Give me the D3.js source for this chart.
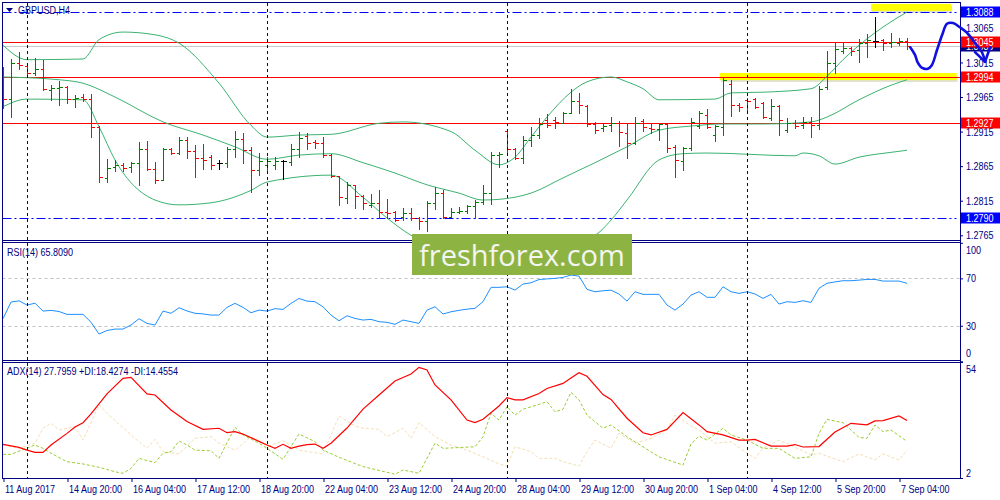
<!DOCTYPE html>
<html><head><meta charset="utf-8">
<script src="https://cdn.jsdelivr.net/npm/d3@7"></script>
<style>
body{margin:0;background:#fff;}
svg{display:block;font-family:"Liberation Sans",Arial,sans-serif;}
</style>
</head><body>
<svg id="c" width="1000" height="500"></svg>
<script>
// ---------- DATA ----------
const symbolTitle = "GBPUSD,H4";
const opens = [1.2994,1.2962,1.3014,1.3010,1.3000,1.3006,1.2975,1.2978,1.2980,1.2962,1.2965,1.2962,1.2922,1.2848,1.2864,1.2866,1.2864,1.2870,1.2890,1.2861,1.2845,1.2890,1.2884,1.2903,1.2887,1.2877,1.2878,1.2870,1.2870,1.2890,1.2904,1.2888,1.2860,1.2867,1.2866,1.2872,1.2871,1.2890,1.2909,1.2900,1.2898,1.2881,1.2851,1.2819,1.2838,1.2822,1.2809,1.2812,1.2799,1.2799,1.2791,1.2797,1.2790,1.2786,1.2812,1.2826,1.2791,1.2799,1.2800,1.2807,1.2813,1.2826,1.2881,1.2916,1.2890,1.2877,1.2903,1.2910,1.2932,1.2932,1.2927,1.2942,1.2959,1.2952,1.2926,1.2920,1.2924,1.2927,1.2913,1.2898,1.2930,1.2920,1.2919,1.2926,1.2893,1.2872,1.2891,1.2923,1.2939,1.2910,1.2922,1.2984,1.2953,1.2961,1.2962,1.2956,1.2935,1.2952,1.2917,1.2927,1.2925,1.2929,1.2924,1.2980,1.3014,1.3032,1.3036,1.3033,1.3043,1.3046,1.3048,1.3043,1.3043,1.3046];
const highs = [1.3008,1.3020,1.3030,1.3014,1.3021,1.3019,1.2982,1.2988,1.2981,1.2968,1.2969,1.2969,1.2923,1.2875,1.2874,1.2870,1.2871,1.2900,1.2901,1.2871,1.2891,1.2891,1.2907,1.2907,1.2895,1.2897,1.2881,1.2874,1.2893,1.2916,1.2913,1.2893,1.2884,1.2878,1.2878,1.2874,1.2897,1.2915,1.2913,1.2903,1.2907,1.2883,1.2851,1.2842,1.2838,1.2823,1.2825,1.2830,1.2817,1.2800,1.2804,1.2804,1.2791,1.2815,1.2835,1.2830,1.2804,1.2806,1.2809,1.2816,1.2838,1.2885,1.2885,1.2917,1.2891,1.2909,1.2922,1.2935,1.2940,1.2936,1.2943,1.2977,1.2971,1.2953,1.2929,1.2927,1.2936,1.2930,1.2927,1.2936,1.2933,1.2927,1.2927,1.2927,1.2895,1.2893,1.2935,1.2945,1.2948,1.2924,1.2994,1.2990,1.2956,1.2964,1.2964,1.2958,1.2962,1.2953,1.2935,1.2932,1.2936,1.2936,1.2981,1.3032,1.3043,1.3043,1.3037,1.3049,1.3056,1.3081,1.3049,1.3058,1.3050,1.3050];
const lows = [1.2949,1.2936,1.3006,1.2995,1.2997,1.2975,1.2961,1.2953,1.2956,1.2951,1.2959,1.2907,1.2842,1.2842,1.2858,1.2858,1.2857,1.2838,1.2860,1.2841,1.2845,1.2883,1.2883,1.2877,1.2849,1.2861,1.2861,1.2861,1.2864,1.2878,1.2870,1.2827,1.2852,1.2857,1.2861,1.2846,1.2866,1.2878,1.2890,1.2891,1.2878,1.2849,1.2809,1.2812,1.2804,1.2803,1.2806,1.2790,1.2790,1.2785,1.2787,1.2787,1.2774,1.2771,1.2803,1.2790,1.2791,1.2797,1.2797,1.2790,1.2810,1.2810,1.2864,1.2881,1.2875,1.2870,1.2894,1.2906,1.2922,1.2920,1.2927,1.2942,1.2942,1.2923,1.2913,1.2916,1.2916,1.2894,1.2877,1.2897,1.2916,1.2913,1.2903,1.2885,1.2849,1.2860,1.2888,1.2920,1.2920,1.2901,1.2910,1.2938,1.2945,1.2943,1.2949,1.2935,1.2932,1.2910,1.2915,1.2920,1.2920,1.2907,1.2919,1.2977,1.3000,1.3029,1.3026,1.3016,1.3023,1.3037,1.3033,1.3037,1.3040,1.3034];
const closes = [1.2962,1.3014,1.3011,1.3000,1.3006,1.2977,1.2978,1.2980,1.2962,1.2964,1.2962,1.2922,1.2849,1.2863,1.2867,1.2863,1.2870,1.2890,1.2861,1.2845,1.2890,1.2884,1.2903,1.2887,1.2877,1.2874,1.2867,1.2870,1.2890,1.2904,1.2888,1.2860,1.2872,1.2872,1.2872,1.2872,1.2890,1.2906,1.2898,1.2898,1.2881,1.2851,1.2820,1.2838,1.2822,1.2812,1.2812,1.2799,1.2797,1.2787,1.2797,1.2790,1.2785,1.2812,1.2826,1.2791,1.2799,1.2800,1.2807,1.2813,1.2826,1.2881,1.2883,1.2890,1.2877,1.2903,1.2910,1.2926,1.2924,1.2929,1.2942,1.2959,1.2953,1.2926,1.2917,1.2923,1.2927,1.2915,1.2898,1.2927,1.2922,1.2919,1.2926,1.2891,1.2874,1.2891,1.2929,1.2942,1.2922,1.2923,1.2990,1.2953,1.2951,1.2959,1.2951,1.2936,1.2952,1.2932,1.2927,1.2923,1.2929,1.2924,1.2977,1.3014,1.3034,1.3036,1.3032,1.3043,1.3048,1.3046,1.3043,1.3045,1.3046,1.3039];

// Bollinger bands: [bar index, price]
const bbUpper = [[0,1.3040],[3,1.3019],[10,1.3020],[12,1.3048],[15,1.3059],[19,1.3055],[22,1.3043],[27,1.2985],[31,1.2924],[33,1.2907],[37,1.2910],[41,1.2911],[47,1.2927],[50,1.2929],[56,1.2915],[59,1.2888],[62,1.2867],[64,1.2878],[66,1.2907],[68,1.2936],[71,1.2972],[73,1.2987],[76,1.2994],[78,1.2987],[80,1.2977],[82,1.2961],[89,1.2962],[91,1.2971],[95,1.2972],[101,1.2977],[103,1.2995],[105,1.3019],[109,1.3058],[113,1.3088]];
const bbMiddle = [[0,1.2994],[7,1.2990],[10,1.2985],[14,1.2965],[20,1.2929],[25,1.2910],[29,1.2893],[33,1.2875],[37,1.2881],[41,1.2883],[45,1.2870],[49,1.2855],[53,1.2838],[57,1.2826],[60,1.2816],[62,1.2817],[66,1.2826],[70,1.2848],[74,1.2870],[78,1.2893],[82,1.2917],[86,1.2923],[90,1.2926],[95,1.2926],[101,1.2929],[103,1.2936],[107,1.2961],[111,1.2982],[113,1.2990]];
const bbLower = [[0,1.2951],[3,1.2962],[10,1.2961],[12,1.2922],[14,1.2874],[19,1.2816],[22,1.2809],[26,1.2812],[31,1.2830],[33,1.2842],[41,1.2852],[45,1.2820],[48,1.2790],[51,1.2765],[55,1.2745],[60,1.2735],[65,1.2738],[70,1.2752],[74,1.2765],[76,1.2787],[78,1.2816],[82,1.2874],[85,1.2883],[88,1.2884],[99,1.2880],[100,1.2884],[102,1.2880],[104,1.2868],[107,1.2878],[111,1.2885],[113,1.2888]];

const rsi = [36,50,51,47.5,49,42.4,43,42,39.6,39.6,39.6,33,23,26,27.2,27.2,30.6,35.9,32,30.6,42.4,40.5,45.2,42.5,40.5,40,39,39,45.5,48.9,45.5,41,43.2,42.4,44.4,43.8,48.9,53,50.8,50.3,46,39,34.2,38.4,36.2,34.8,35.4,33.4,32.9,31.2,34.8,33.4,32,43.2,46,39.9,41.8,43,44,44.7,50.3,62.4,62.4,62.9,60.1,65.2,66.3,69,69.5,70,70.8,72.8,71.9,60.7,58.7,59.5,60,56.8,50.8,58.7,56.5,56.5,56.5,47.5,43.2,48.3,55.9,58.7,54,54,62.9,58.7,57.3,58.7,56.8,53.1,56.5,48.3,50.3,49.7,51.1,49.7,61.6,65.8,67,68,68,68.5,69.1,69.1,67.7,67.7,67.7,65.8];
const rsiLevels = [70, 30];
const rsiTicks = [100, 70, 30, 0];

const adx = [[0,17.1],[2,15.7],[3,14.5],[4,13.5],[5,13.5],[6,16.8],[8,22.0],[9,24.9],[10,26.8],[11,30.7],[13,39.7],[15,46.7],[16,47.1],[18,39.7],[19,39.2],[21,32.5],[23,27.3],[25,23.8],[27,24.3],[28,22.3],[29,22.8],[30,21.7],[32,18.4],[33,16.8],[34,15.3],[35,17.1],[36,15.3],[37,16.3],[38,17.0],[39,17.2],[40,15.3],[41,17.6],[43,24.4],[45,32.9],[47,39.2],[49,45.5],[51,48.6],[52,51.6],[53,50.4],[54,43.7],[56,37.0],[58,28.0],[59,26.8],[60,28.3],[62,34.3],[63,38.0],[64,37.0],[65,37.0],[67,39.9],[68,42.1],[70,44.4],[71,46.8],[72,49.2],[73,47.6],[75,39.4],[76,37.2],[78,28.8],[80,22.3],[81,21.3],[83,23.8],[85,31.3],[87,25.8],[88,22.8],[90,21.3],[92,19.0],[93,19.0],[94,19.3],[96,16.3],[98,16.3],[99,17.0],[100,15.9],[102,16.1],[104,22.6],[106,26.5],[108,25.8],[109,27.6],[110,27.7],[112,29.8],[113,27.8]];
const plusDI = [[0,12.6],[1,12.6],[4,16.8],[5,15.3],[6,13.1],[8,9.3],[10,8.3],[12,6.8],[14,4.8],[15,4.1],[16,6.3],[17,10.8],[19,8.9],[20,13.1],[21,13.8],[22,18.6],[23,16.8],[24,14.5],[26,14.2],[27,10.8],[29,24.7],[30,21.3],[32,17.6],[33,15.3],[35,10.4],[37,21.7],[39,18.3],[40,14.5],[42,11.3],[45,7.1],[49,3.7],[50,5.6],[52,4.1],[54,17.6],[55,15.3],[59,16.0],[60,20.5],[61,31.0],[62,28.0],[63,34.0],[64,30.2],[65,32.8],[67,35.0],[68,36.2],[69,31.7],[70,32.8],[71,40.4],[72,37.0],[73,30.2],[75,24.3],[76,25.8],[78,20.5],[80,16.0],[82,11.5],[85,7.8],[86,17.2],[87,20.8],[88,19.0],[90,24.3],[91,21.3],[93,19.0],[95,15.3],[97,15.3],[99,10.8],[101,11.5],[102,22.0],[103,28.3],[105,26.8],[107,20.2],[108,19.8],[109,25.8],[110,22.8],[111,23.5],[113,18.4]];
const minusDI = [[0,16.8],[2,15.3],[4,17.6],[5,24.3],[6,26.5],[7,23.5],[9,25.0],[10,19.0],[12,34.7],[13,31.0],[16,21.3],[18,15.3],[19,19.3],[20,13.8],[22,12.8],[24,19.8],[26,20.5],[27,17.6],[29,14.5],[31,20.5],[32,18.7],[33,16.0],[35,18.7],[37,14.5],[40,12.8],[42,29.8],[44,25.3],[45,24.3],[47,23.8],[48,20.5],[50,24.3],[51,19.8],[52,26.8],[54,20.5],[56,16.8],[58,14.5],[60,11.5],[62,8.3],[63,7.4],[64,16.0],[66,13.8],[67,10.8],[69,10.8],[70,9.3],[72,7.4],[73,13.8],[74,19.0],[76,15.3],[77,22.0],[79,17.6],[81,19.8],[83,23.5],[84,30.2],[86,25.3],[87,23.5],[89,17.6],[91,18.3],[93,13.1],[94,10.8],[95,15.3],[97,19.0],[99,15.8],[101,12.3],[102,13.1],[105,9.3],[107,12.8],[109,10.1],[110,12.8],[112,10.1],[113,14.5]];
const adxTicks = [54, 2];

const priceTicks = [1.3065,1.3015,1.2965,1.2915,1.2865,1.2815,1.2765];
const redLevels = [1.3045, 1.2994, 1.2927];
const blueLevels = [1.3088, 1.2790];
const bidPrice = 1.3039;
const weekStarts = [3, 33, 63, 93];
const timeTickIdx = [0,8,16,24,32,40,48,56,64,72,80,88,96,104,112];
const timeTickLabels = ["11 Aug 2017","14 Aug 20:00","16 Aug 04:00","17 Aug 12:00","18 Aug 20:00","22 Aug 04:00","23 Aug 12:00","24 Aug 20:00","28 Aug 04:00","29 Aug 12:00","30 Aug 20:00","1 Sep 04:00","4 Sep 12:00","5 Sep 20:00","7 Sep 04:00"];
// yellow highlight zones: [fromIndex, toIndex, price]
const zones = [[108.5, 118.5, 1.3094], [89.6, 119.2, 1.2994]];
// hand-drawn forecast arrow: [bar index, price]
const forecast = [[113.4,1.3037],[114.0,1.3026],[114.3,1.3016],[114.9,1.3007],[115.6,1.3006],[116.1,1.3011],[116.75,1.3033],[117.4,1.3055],[118.0,1.3071],[118.75,1.3072],[119.6,1.3066],[120.5,1.3058],[121.5,1.3043],[122.4,1.3029],[122.75,1.3016]];
const arrowHead = [[121.5,1.3030],[122.75,1.3016],[123.4,1.3037]];
const rsiTitle = "RSI(14) 65.8090";
const adxTitle = "ADX(14) 27.7959 +DI:18.4274 -DI:14.4554";
const watermark = "freshforex.com";

// ---------- SCALES ----------
const svg = d3.select("#c");
const NAVY = "#000080";
const L = 2.5, R = 960.5;
const SX = 0.82;           // horizontal condensing to mimic Tahoma widths
const FS = "11px";
const x = d3.scaleLinear().domain([0, 113]).range([3, 907]);
const y = d3.scaleLinear().domain([1.2790, 1.3088]).range([218, 12]);
const yR = d3.scaleLinear().domain([0, 100]).range([361.3, 242.8]);
const yA = d3.scaleLinear().domain([2, 54]).range([478, 362]);
const cx = i => Math.round(x(i)) + 0.5;
const cy = v => Math.round(y(v)) + 0.5;

function ctext(parent, px, py, txt, fill){
  return parent.append("text").attr("transform",`scale(${SX},1)`).attr("x", px/SX).attr("y", py)
    .attr("fill", fill).style("font-size", FS).text(txt);
}

const defs = svg.append("defs");
defs.append("clipPath").attr("id","cpMain").append("rect").attr("x",3).attr("y",3).attr("width",957).attr("height",237);
defs.append("clipPath").attr("id","cpRsi").append("rect").attr("x",3).attr("y",243).attr("width",957).attr("height",117);
defs.append("clipPath").attr("id","cpAdx").append("rect").attr("x",3).attr("y",363).attr("width",957).attr("height",115);

// ---------- MAIN PANEL ----------
const gMain = svg.append("g").attr("clip-path","url(#cpMain)");

zones.forEach(z => {
  const x0 = x(z[0]), x1 = x(z[1]), yy = y(z[2]);
  gMain.append("rect").attr("x",x0+1).attr("y",yy-2).attr("width",x1-x0).attr("height",7).attr("fill","#cfcfa0").attr("opacity",0.6);
  gMain.append("rect").attr("x",x0).attr("y",yy-4).attr("width",x1-x0).attr("height",7).attr("fill","#ffff00");
});

gMain.append("line").attr("x1",L).attr("x2",R).attr("y1",cy(bidPrice)).attr("y2",cy(bidPrice)).attr("stroke","#c8c8c8");
redLevels.forEach(v => gMain.append("line").attr("x1",L).attr("x2",R).attr("y1",cy(v)).attr("y2",cy(v)).attr("stroke","#ff0000"));
blueLevels.forEach(v => gMain.append("line").attr("x1",L).attr("x2",R-4).attr("y1",cy(v)).attr("y2",cy(v))
  .attr("stroke","#0000ff").attr("stroke-dasharray","9,3,2,3"));

const bandLine = d3.line().x(d => x(d[0])).y(d => y(d[1])).curve(d3.curveMonotoneX);
[bbUpper, bbMiddle, bbLower].forEach(b => gMain.append("path").attr("d", bandLine(b))
  .attr("fill","none").attr("stroke","#3cb371").attr("stroke-width",1));

const bars = d3.range(opens.length).map(i => ({i, o:opens[i], h:highs[i], l:lows[i], c:closes[i]}));
const col = d => d.c > d.o ? "#008000" : (d.c < d.o ? "#ff0000" : "#000000");
const gb = gMain.append("g").attr("shape-rendering","crispEdges");
const bg = gb.selectAll("g.bar").data(bars).join("g").attr("class","bar").attr("stroke", col);
bg.append("line").attr("x1", d=>cx(d.i)).attr("x2", d=>cx(d.i)).attr("y1", d=>Math.round(y(d.h))).attr("y2", d=>Math.round(y(d.l))+1);
bg.append("line").attr("x1", d=>cx(d.i)-3).attr("x2", d=>cx(d.i)).attr("y1", d=>cy(d.o)).attr("y2", d=>cy(d.o));
bg.append("line").attr("x1", d=>cx(d.i)).attr("x2", d=>cx(d.i)+3.5).attr("y1", d=>cy(d.c)).attr("y2", d=>cy(d.c));

// ---------- RSI PANEL ----------
const gR = svg.append("g").attr("clip-path","url(#cpRsi)");
rsiLevels.forEach(v => gR.append("line").attr("x1",L).attr("x2",R).attr("y1",Math.round(yR(v))+0.5).attr("y2",Math.round(yR(v))+0.5)
  .attr("stroke","#c0c0c0").attr("stroke-dasharray","3,3"));
gR.append("path").attr("d", d3.line().x((d,i)=>x(i)).y(d=>yR(d))(rsi)).attr("fill","none").attr("stroke","#1e90ff").attr("stroke-width",1);

// ---------- ADX PANEL ----------
const gA = svg.append("g").attr("clip-path","url(#cpAdx)");
const pl = d3.line().x(d => x(d[0])).y(d => yA(d[1]));
gA.append("path").attr("d", pl(minusDI)).attr("fill","none").attr("stroke","#f5deb3").attr("stroke-dasharray","3,2");
gA.append("path").attr("d", pl(plusDI)).attr("fill","none").attr("stroke","#9acd32").attr("stroke-dasharray","3,2");
gA.append("path").attr("d", pl(adx)).attr("fill","none").attr("stroke","#ff0000").attr("stroke-width",1.2);

// ---------- week separators ----------
weekStarts.forEach(i => svg.append("line").attr("x1",cx(i)).attr("x2",cx(i)).attr("y1",3).attr("y2",478)
  .attr("stroke",NAVY).attr("stroke-dasharray","3,3"));

// ---------- frames ----------
const fr = svg.append("g").attr("stroke",NAVY).attr("shape-rendering","crispEdges");
[2.5, 240.5, 242.5, 360.5, 362.5, 478.5].forEach(v => fr.append("line").attr("x1",L).attr("x2",R).attr("y1",v).attr("y2",v));
fr.append("line").attr("x1",L).attr("x2",L).attr("y1",2).attr("y2",479);
fr.append("line").attr("x1",R).attr("x2",R).attr("y1",2).attr("y2",479);

// ---------- axes ----------
function styleAxis(g){
  g.select(".domain").remove();
  g.selectAll("line").attr("stroke",NAVY);
  g.selectAll("text").attr("fill",NAVY).style("font-size",FS);
}
function condense(g, px){
  g.selectAll(".tick text").attr("transform",`scale(${SX},1)`).attr("x", px/SX);
}
const ap = svg.append("g").attr("transform","translate(960,0)")
  .call(d3.axisRight(y).tickValues(priceTicks).tickFormat(d3.format(".4f")).tickSize(3).tickPadding(3))
  .call(styleAxis);
condense(ap, 6);
const ar = svg.append("g").attr("transform","translate(960,0)")
  .call(d3.axisRight(yR).tickValues(rsiTicks).tickFormat(d3.format("d")).tickSize(3).tickPadding(3))
  .call(styleAxis);
condense(ar, 6);
ar.selectAll("text").attr("dy", d => d===100 ? "1.0em" : (d===0 ? "-0.4em" : "0.32em"));
const aa = svg.append("g").attr("transform","translate(960,0)")
  .call(d3.axisRight(yA).tickValues(adxTicks).tickFormat(d3.format("d")).tickSize(3).tickPadding(3))
  .call(styleAxis);
condense(aa, 6);
aa.selectAll("text").attr("dy", d => d===54 ? "0.95em" : "-0.15em");

const ax = svg.append("g").attr("transform","translate(0,478)")
  .call(d3.axisBottom(x).tickValues(timeTickIdx).tickFormat((d,i)=>timeTickLabels[i]).tickSize(4).tickPadding(3))
  .call(styleAxis);
ax.selectAll(".tick line").attr("transform","translate(0.5,0)");
ax.selectAll("text").attr("text-anchor","start");
condense(ax, 1.5);

// ---------- price labels ----------
const tagList = [[bidPrice,NAVY]].concat(blueLevels.map(v=>[v,"#0000ff"]), redLevels.map(v=>[v,"#ff0000"]));
tagList.forEach(t => {
  const yy = Math.round(y(t[0]));
  svg.append("rect").attr("x",961).attr("y",yy-5.5).attr("width",39).attr("height",11).attr("fill",t[1]);
  ctext(svg, 966, yy, d3.format(".4f")(t[0]), "#ffffff").attr("dy","0.36em");
});

// ---------- titles ----------
svg.append("path").attr("d","M6,8 L13,8 L9.5,12 Z").attr("fill",NAVY);
ctext(svg, 18, 14, symbolTitle, NAVY);
ctext(svg, 7, 256, rsiTitle, NAVY);
ctext(svg, 7, 375, adxTitle, NAVY);

// ---------- forecast arrow ----------
const fl = d3.line().x(d=>x(d[0])).y(d=>y(d[1])).curve(d3.curveCatmullRom);
svg.append("path").attr("d", fl(forecast)).attr("fill","none").attr("stroke","#1010e0").attr("stroke-width",2.6).attr("stroke-linecap","round");
svg.append("path").attr("d", d3.line().x(d=>x(d[0])).y(d=>y(d[1]))(arrowHead)).attr("fill","none").attr("stroke","#1010e0").attr("stroke-width",2.6).attr("stroke-linecap","round").attr("stroke-linejoin","round");

// ---------- watermark ----------
svg.append("rect").attr("x",412).attr("y",234).attr("width",220).attr("height",41).attr("fill","#8db443");
svg.append("text").attr("x",522).attr("y",266).attr("text-anchor","middle").attr("fill","#f4f4f0")
  .style("font-family","'Open Sans','Noto Sans',sans-serif").style("font-size","29px").text(watermark);
</script>
</body></html>
